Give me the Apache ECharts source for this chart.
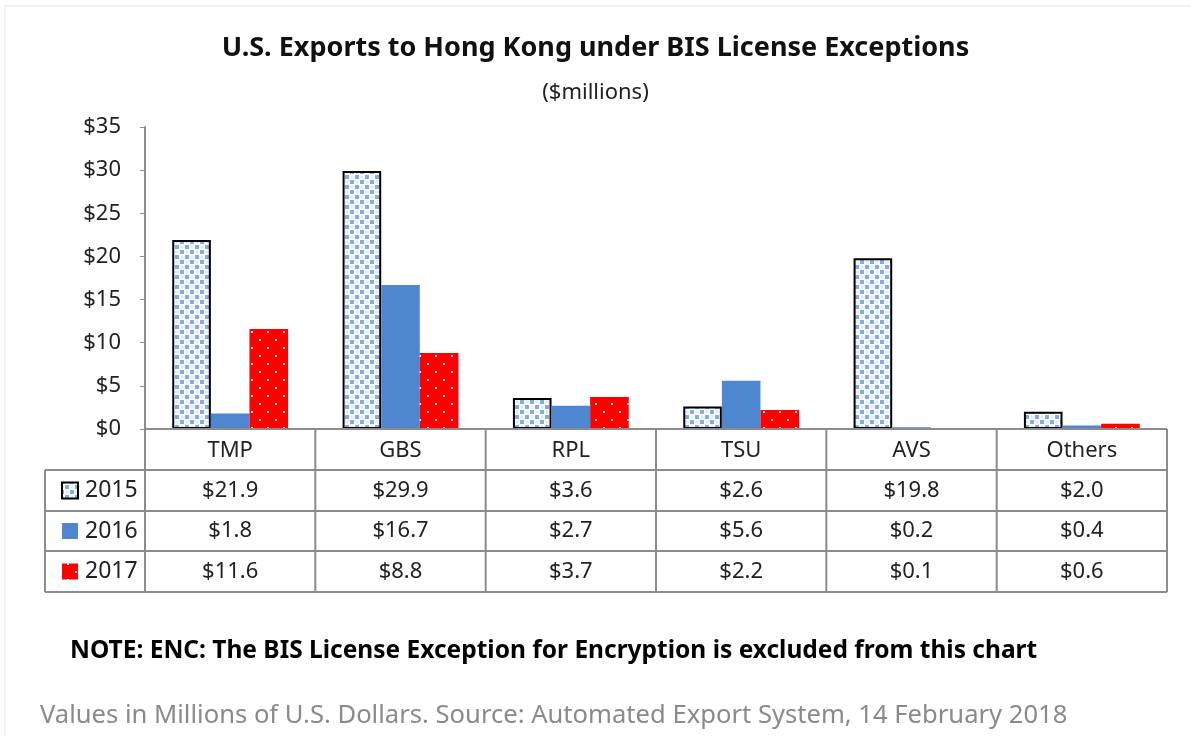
<!DOCTYPE html>
<html>
<head>
<meta charset="utf-8">
<script src="https://cdn.jsdelivr.net/npm/echarts@6/dist/echarts.min.js"></script>
<style>
  html, body { margin: 0; padding: 0; background: #fff; }
  #chart { width: 1191px; height: 736px; }
</style>
</head>
<body>
<div id="chart"></div>
<script>
// categories and values ($ millions)
var categories = ['TMP', 'GBS', 'RPL', 'TSU', 'AVS', 'Others'];
var years = ['2015', '2016', '2017'];
var values2015 = [21.9, 29.9, 3.6, 2.6, 19.8, 2.0];
var values2016 = [1.8, 16.7, 2.7, 5.6, 0.2, 0.4];
var values2017 = [11.6, 8.8, 3.7, 2.2, 0.1, 0.6];
var yTicks = [0, 5, 10, 15, 20, 25, 30, 35];

var FONT = '"Noto Sans", sans-serif';

// layout of plot + table
var gridLeft = 145, gridRight = 1167, gridTop = 127, gridBottom = 429;
var rowH = [41, 41, 40, 41];
var legendLeft = 45;

// checker pattern for 2015
function makeChecker() {
    var c = document.createElement('canvas');
    c.width = 10; c.height = 10;
    var g = c.getContext('2d');
    g.fillStyle = '#ffffff';
    g.fillRect(0, 0, 10, 10);
    g.fillStyle = '#86abdf';
    g.fillRect(0, 0, 4, 4);
    g.fillRect(5, 5, 4, 4);
    g.fillStyle = '#e3ecf8';
    g.beginPath(); g.arc(7, 2, 2, 0, Math.PI * 2); g.fill();
    g.beginPath(); g.arc(2, 7, 2, 0, Math.PI * 2); g.fill();
    return c;
}
// red with white dots for 2017
function makeDots() {
    var c = document.createElement('canvas');
    c.width = 16; c.height = 16;
    var g = c.getContext('2d');
    g.fillStyle = '#ff0000';
    g.fillRect(0, 0, 16, 16);
    g.fillStyle = '#ffffff';
    g.fillRect(3, 3, 2, 2);
    g.fillRect(11, 11, 2, 2);
    return c;
}
var checker = makeChecker();
var dots = makeDots();
var fills = [
    { image: checker, repeat: 'repeat' },
    '#4f86d0',
    { image: dots, repeat: 'repeat' }
];

// table drawn from the same arrays
function buildTable() {
    var els = [];
    var lineStyle = { stroke: '#8c8c8c', lineWidth: 2 };
    var cw = (gridRight - gridLeft) / categories.length;
    var rowsY = [gridBottom];
    for (var r = 0; r < rowH.length; r++) rowsY.push(rowsY[r] + rowH[r]);
    var tableBottom = rowsY[rowsY.length - 1];

    // horizontal lines
    els.push({ type: 'line', shape: { x1: gridLeft, y1: rowsY[0], x2: gridRight, y2: rowsY[0] }, style: lineStyle, z: 10 });
    for (var i = 1; i < rowsY.length; i++) {
        els.push({ type: 'line', shape: { x1: legendLeft, y1: rowsY[i], x2: gridRight, y2: rowsY[i] }, style: lineStyle, z: 10 });
    }
    // vertical lines
    els.push({ type: 'line', shape: { x1: legendLeft, y1: rowsY[1], x2: legendLeft, y2: tableBottom }, style: lineStyle, z: 10 });
    for (var c = 0; c <= categories.length; c++) {
        var x = gridLeft + c * cw;
        els.push({ type: 'line', shape: { x1: x, y1: rowsY[0], x2: x, y2: tableBottom }, style: lineStyle, z: 10 });
    }
    // header
    categories.forEach(function (name, ci) {
        els.push({
            type: 'text', x: gridLeft + (ci + 0.5) * cw, y: (rowsY[0] + rowsY[1]) / 2 + 1,
            style: { text: name, font: '22px ' + FONT, fill: '#222', align: 'center', verticalAlign: 'middle' }
        });
    });
    var series = [values2015, values2016, values2017];
    series.forEach(function (vals, ri) {
        var cy = (rowsY[ri + 1] + rowsY[ri + 2]) / 2;
        // legend key
        els.push({
            type: 'rect', shape: { x: 62, y: cy - 8, width: 16, height: 16 },
            style: ri === 0 ? { fill: fills[0], stroke: '#000', lineWidth: 2 } : { fill: fills[ri] }
        });
        els.push({
            type: 'text', x: 85, y: cy,
            style: { text: years[ri], font: '23px ' + FONT, fill: '#222', align: 'left', verticalAlign: 'middle' }
        });
        vals.forEach(function (v, ci) {
            els.push({
                type: 'text', x: gridLeft + (ci + 0.5) * cw, y: cy,
                style: { text: '$' + v.toFixed(1), font: '22px ' + FONT, fill: '#222', align: 'center', verticalAlign: 'middle' }
            });
        });
    });
    // note and source
    els.push({
        type: 'text', x: 70, y: 651,
        style: { text: 'NOTE: ENC: The BIS License Exception for Encryption is excluded from this chart', font: 'bold 24.5px ' + FONT, fill: '#000', verticalAlign: 'middle' }
    });
    els.push({
        type: 'text', x: 40, y: 716,
        style: { text: 'Values in Millions of U.S. Dollars. Source: Automated Export System, 14 February 2018', font: '25.6px ' + FONT, fill: '#8a8a8a', verticalAlign: 'middle' }
    });
    // faint frame
    els.push({
        type: 'rect', shape: { x: 5, y: 6, width: 1190, height: 740 },
        style: { fill: 'none', stroke: '#e6e6e6', lineWidth: 1 }, z: -1
    });
    return els;
}

var myChart = echarts.init(document.getElementById('chart'));
var option = {
    backgroundColor: '#fff',
    animation: false,
    title: {
        text: 'U.S. Exports to Hong Kong under BIS License Exceptions',
        subtext: '($millions)',
        left: 'center',
        top: 30,
        itemGap: 20,
        textStyle: { fontFamily: FONT, fontSize: 27, fontWeight: 'bold', color: '#111' },
        subtextStyle: { fontFamily: FONT, fontSize: 22, color: '#222' }
    },
    grid: {
        left: gridLeft, right: 1191 - gridRight, top: gridTop, bottom: 736 - gridBottom,
        containLabel: false
    },
    xAxis: {
        type: 'category',
        data: categories,
        axisLine: { show: false },
        axisTick: { show: false },
        axisLabel: { show: false }
    },
    yAxis: {
        type: 'value',
        min: yTicks[0],
        max: yTicks[yTicks.length - 1],
        interval: 5,
        axisLine: { show: true, lineStyle: { color: '#8c8c8c', width: 2 } },
        axisTick: { show: true, length: 5, lineStyle: { color: '#8c8c8c' } },
        splitLine: { show: false },
        axisLabel: {
            margin: 24,
            fontFamily: FONT, fontSize: 22, color: '#222',
            formatter: function (v) { return '$' + v; }
        }
    },
    series: [
        {
            name: '2015', type: 'bar', data: values2015,
            barGap: '0%', barCategoryGap: '32%',
            itemStyle: { color: fills[0], borderColor: '#000', borderWidth: 2 }
        },
        {
            name: '2016', type: 'bar', data: values2016,
            itemStyle: { color: fills[1] }
        },
        {
            name: '2017', type: 'bar', data: values2017,
            itemStyle: { color: fills[2] }
        }
    ],
    graphic: buildTable()
};
myChart.setOption(option);
</script>
</body>
</html>
